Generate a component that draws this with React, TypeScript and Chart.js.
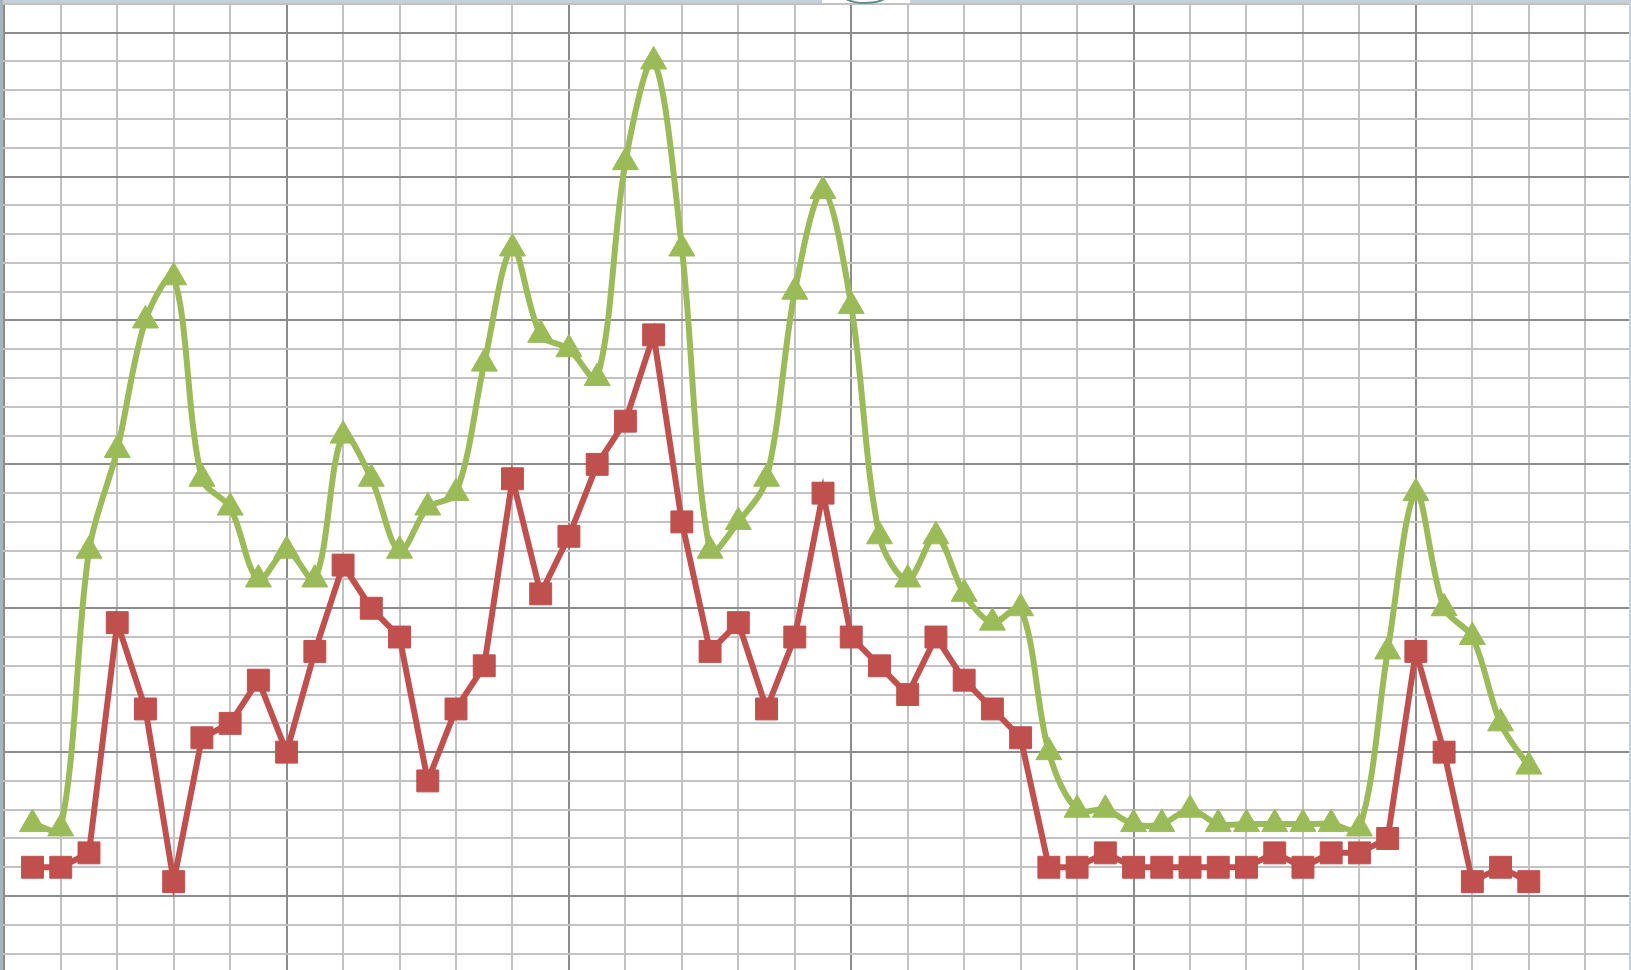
import React, { useEffect, useRef } from "react";
import { Chart, registerables } from "chart.js";

Chart.register(...registerables);

const xPositions = [
  1, 2, 3, 4, 5, 6, 7, 8, 9, 10, 11, 12, 13, 14, 15, 16, 17, 18, 19, 20,
  21, 22, 23, 24, 25, 26, 27, 28, 29, 30, 31, 32, 33, 34, 35, 36, 37, 38, 39, 40,
  41, 42, 43, 44, 45, 46, 47, 48, 49, 50, 51, 52, 53, 54,
];

const redSeries = [
  2, 2, 3, 19, 13, 1, 11, 12, 15, 10, 17, 23, 20, 18, 8, 13, 16, 29, 21, 25,
  30, 33, 39, 26, 17, 19, 13, 18, 28, 18, 16, 14, 18, 15, 13, 11, 2, 2, 3, 2,
  2, 2, 2, 2, 3, 2, 3, 3, 4, 17, 10, 1, 2, 1,
];

const greenSeries = [
  5, 4.7, 24, 31, 40, 43, 29, 27, 22, 24, 22, 32, 29, 24, 27, 28, 37, 45, 39, 38,
  36, 51, 58, 45, 24, 26, 29, 42, 49, 41, 25, 22, 25, 21, 19, 20, 10, 6, 6, 5,
  5, 6, 5, 5, 5, 5, 5, 4.7, 17, 28, 20, 18, 12, 9,
];

const xGridTicks = [
  0, 2, 4, 6, 8, 10, 12, 14, 16, 18, 20, 22, 24, 26, 28, 30, 32, 34, 36, 38,
  40, 42, 44, 46, 48, 50, 52, 54, 56,
];
const yGridTicks = [
  -4, -2, 0, 2, 4, 6, 8, 10, 12, 14, 16, 18, 20, 22, 24, 26, 28, 30, 32, 34,
  36, 38, 40, 42, 44, 46, 48, 50, 52, 54, 56, 58, 60, 62,
];

const RED = "#c0504d";
const GREEN = "#9bbb59";
const MINOR = "#c2c2c2";
const MAJOR = "#8c8c8c";

const W = 1631;
const H = 970;

const gridColor = (ctx: any) =>
  ctx.tick && Math.abs(ctx.tick.value % 10) < 1e-9 ? MAJOR : MINOR;

const framePlugin = {
  id: "frame",
  afterDraw(chart: any) {
    const c = chart.ctx;
    c.save();
    c.fillStyle = "#c7d0d8";
    c.fillRect(0, 0, W, 3);
    c.fillRect(W - 2, 0, 2, H);
    c.fillStyle = "#a9b3bc";
    c.fillRect(0, 0, 3, H);
    c.fillStyle = "#ffffff";
    c.fillRect(822, 0, 88, 3);
    c.strokeStyle = "#5e8e8c";
    c.lineWidth = 2;
    c.beginPath();
    c.ellipse(865, -5, 22, 8, 0, 0.15 * Math.PI, 0.85 * Math.PI);
    c.stroke();
    c.restore();
  },
};

export default function App() {
  const ref = useRef<HTMLCanvasElement | null>(null);

  useEffect(() => {
    if (!ref.current) return;
    const chart = new Chart(ref.current, {
      type: "line",
      data: {
        datasets: [
          {
            label: "Series red",
            data: xPositions.map((x, i) => ({ x, y: redSeries[i] })),
            borderColor: RED,
            backgroundColor: RED,
            borderWidth: 6,
            pointStyle: "rect",
            pointRadius: 15.5,
            pointBorderWidth: 1,
            pointBorderColor: RED,
            pointBackgroundColor: RED,
            tension: 0,
            clip: false,
          },
          {
            label: "Series green",
            data: xPositions.map((x, i) => ({ x, y: greenSeries[i] })),
            borderColor: GREEN,
            backgroundColor: GREEN,
            borderWidth: 6,
            pointStyle: "triangle",
            pointRadius: 15,
            pointBorderWidth: 1,
            pointBorderColor: GREEN,
            pointBackgroundColor: GREEN,
            tension: 0.33,
            clip: false,
          },
        ],
      },
      options: {
        responsive: false,
        animation: false,
        maintainAspectRatio: false,
        layout: { padding: 0, autoPadding: false },
        plugins: {
          legend: { display: false },
          tooltip: { enabled: false },
        },
        scales: {
          x: {
            type: "linear",
            min: -0.152,
            max: 57.62,
            afterBuildTicks: (scale: any) => {
              scale.ticks = xGridTicks.map((v) => ({ value: v }));
            },
            ticks: { display: false },
            border: { display: false },
            grid: { color: gridColor, lineWidth: 2, drawTicks: false },
          },
          y: {
            type: "linear",
            min: -5.14,
            max: 62.27,
            afterBuildTicks: (scale: any) => {
              scale.ticks = yGridTicks.map((v) => ({ value: v }));
            },
            ticks: { display: false },
            border: { display: false },
            grid: { color: gridColor, lineWidth: 2, drawTicks: false },
          },
        },
      },
      plugins: [framePlugin],
    });
    return () => chart.destroy();
  }, []);

  return (
    <div
      style={{
        position: "fixed",
        left: 0,
        top: 0,
        width: W,
        height: H,
        background: "#ffffff",
        overflow: "hidden",
      }}
    >
      <canvas
        ref={ref}
        width={W}
        height={H}
        style={{ width: W, height: H, display: "block", filter: "blur(0.6px)" }}
      />
    </div>
  );
}
